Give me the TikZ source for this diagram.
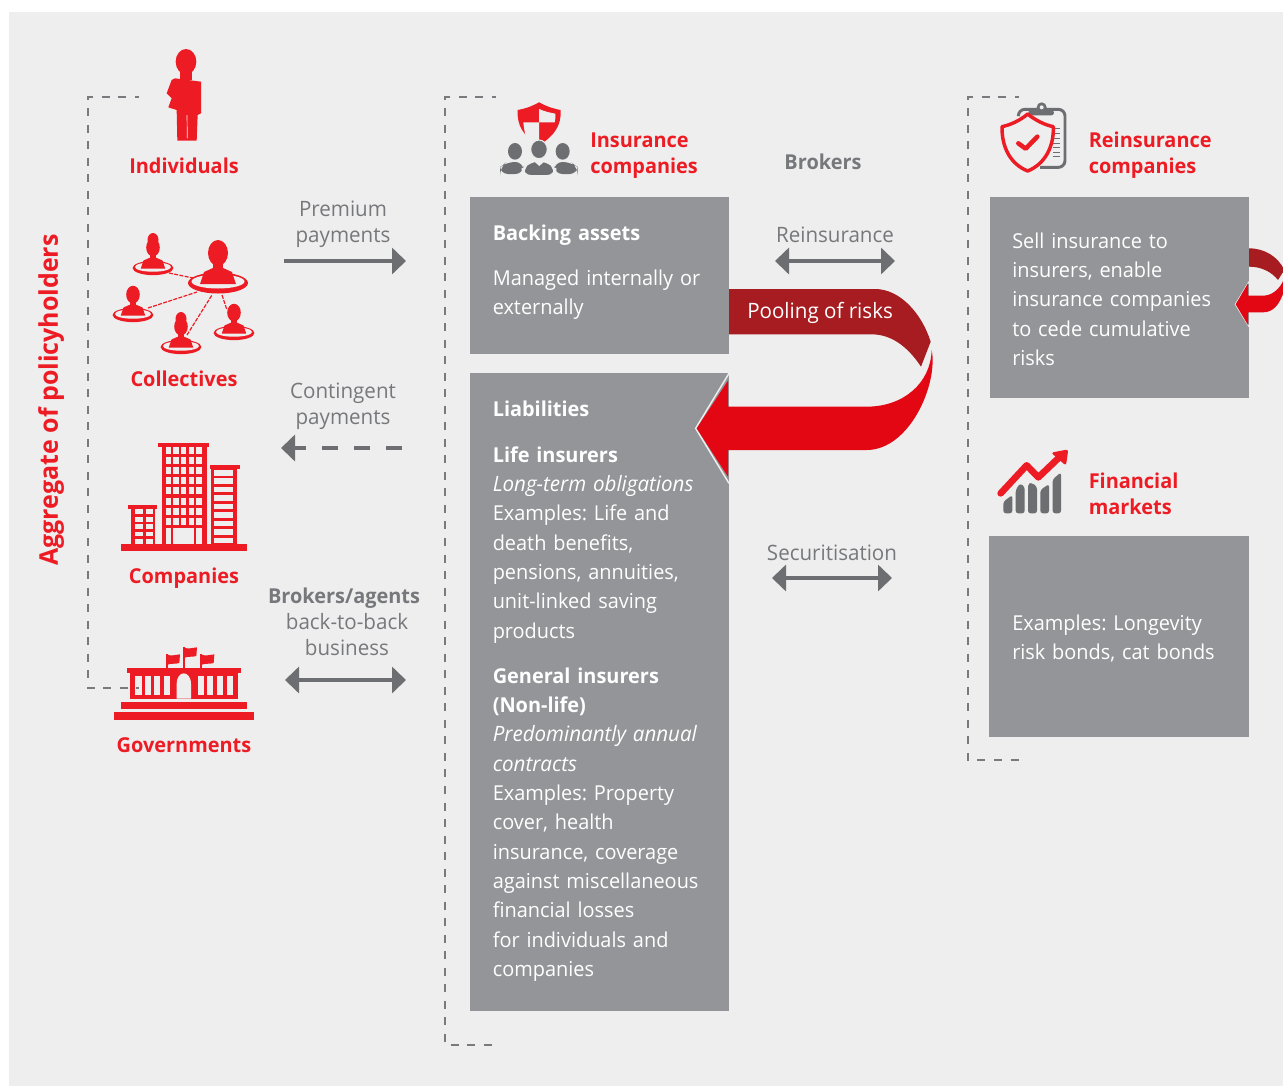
\documentclass[tikz,border=0pt]{standalone}
\usepackage{fontspec}
\setmainfont[FakeStretch=0.97]{Open Sans}
\usetikzlibrary{arrows.meta}
\definecolor{bgc}{HTML}{EEEEEE}
\definecolor{redc}{HTML}{ED1C24}
\definecolor{darkred}{HTML}{A61C20}
\definecolor{arrowred}{HTML}{E30613}
\definecolor{boxc}{HTML}{939598}
\definecolor{grayc}{HTML}{6D6E71}
\definecolor{txtgray}{HTML}{77787B}
\AtBeginDocument{\frenchspacing}
\newcommand{\itline}[1]{{\fontsize{15.9pt}{22pt}\selectfont\itshape #1}}
\tikzset{
  x=.75pt,y=-.75pt,
  panelbox/.style={fill=boxc,draw=none},
  boxtext/.style={anchor=base west,inner sep=0pt,text=white,text width=255*.75pt,align=left,font=\fontsize{15.4pt}{22pt}\selectfont},
  redtitle/.style={anchor=base west,inner sep=0pt,text=redc,text width=170*.75pt,align=left,font=\fontsize{15.4pt}{20pt}\selectfont\bfseries},
  redlabel/.style={anchor=base,inner sep=0pt,text=redc,font=\fontsize{15.4pt}{20pt}\selectfont\bfseries},
  graylabel/.style={anchor=base,inner sep=0pt,text=txtgray,text width=170*.75pt,align=center,font=\fontsize{15.9pt}{20pt}\selectfont},
  flowarrow/.style={draw=grayc,line width=3.2pt,{Triangle[length=10.5pt,width=19.5pt]}-{Triangle[length=10.5pt,width=19.5pt]}},
  bracket/.style={draw=grayc,line width=1.6pt,dash pattern=on 6pt off 6.4pt,dash phase=3pt,opacity=.9},
  iconzoom/.style={x=.25pt,y=-.25pt},
  hub/.pic={
    \fill[redc] (0,0) ellipse [x radius=30,y radius=10.5];
    \fill[bgc] (0,-1.5) ellipse [x radius=26.5,y radius=7];
    \fill[redc] (0,-30) ellipse [x radius=10,y radius=13];
    \fill[redc] (-5,-20) rectangle (5,-12);
    \fill[redc] (-18,1) -- (-14,-11) -- (-5,-15) -- (5,-15) -- (14,-11) -- (18,1) -- cycle;
  },
}
\begin{document}
\begin{tikzpicture}
\useasboundingbox (0,0) rectangle (1283,1086);
\fill[white] (0,0) rectangle (1283,1086);
\fill[bgc] (9,12) rectangle (1283,1086);

% ---- grey panels
\fill[panelbox] (470,197) rectangle (729,354);
\fill[panelbox] (470,373) rectangle (729,1011);
\fill[panelbox] (990,197) rectangle (1249,398);
\fill[panelbox] (989,536) rectangle (1249,737);

% ---- individuals icon
\begin{scope}[shift={(30,30)},iconzoom]
  \fill[redc] (468,95) ellipse [x radius=31,y radius=38];
  \fill[redc] (450,120) rectangle (485,150);
  \fill[redc] (435,145) -- (513,155) -- (513,250) -- (503,255) -- (500,332) -- (442,332)
     -- (440,240) -- (415,232) -- (425,205) -- (410,190) -- (425,150) -- cycle;
  \draw[bgc,line width=.5pt] (471,255) -- (472,325);
\end{scope}

% ---- collectives icon
\begin{scope}
  \draw[redc,line width=.9pt,dash pattern=on 3pt off 1pt] (169,273) -- (193,278);
  \draw[redc,line width=.9pt,dash pattern=on 3pt off 1pt] (148,308) -- (197,292);
  \draw[redc,line width=.9pt,dash pattern=on 3pt off 1pt] (187,335) -- (212,295);
  \draw[redc,line width=.9pt,dash pattern=on 3pt off 1pt] (222,295) -- (227,310);
  \pic[scale=1] at (218,283) {hub};
  \pic[scale=.68] at (153,268) {hub};
  \pic[scale=.68] at (133,315) {hub};
  \pic[scale=.68] at (181,347) {hub};
  \pic[scale=.68] at (234,333) {hub};
  \fill[redc] (153,240) ellipse [x radius=5.5,y radius=7];
  \fill[redc] (181,319) ellipse [x radius=5.5,y radius=7];
\end{scope}

% ---- companies icon
\begin{scope}[shift={(90,430)},iconzoom]
  \fill[redc] (93,342) rectangle (470,362);
  \fill[redc] (205,38) rectangle (358,50);
  \fill[redc] (215,50) rectangle (350,342);
  \foreach \yy/\yb in {50/73,80/103,111/133,142/163,172/193,203/224,233/254,263/285}
    \foreach \xx in {228,250,273,296,319}
      \fill[bgc] (\xx,\yy) rectangle (\xx+16,\yb);
  \fill[bgc] (228,293) rectangle (244,342);
  \fill[bgc] (250,293) rectangle (312,342);
  \fill[bgc] (319,293) rectangle (335,342);
  \fill[redc] (361,105) rectangle (450,118);
  \fill[redc] (362,118) rectangle (440,342);
  \foreach \yy in {120,145,170,196,221,247,272,298,323}
    \fill[bgc] (373,\yy) rectangle (428,\yy+17);
  \fill[redc] (113,225) rectangle (202,238);
  \fill[redc] (122,238) rectangle (195,342);
  \foreach \yy in {238,261,283,305,327}
    \foreach \xx/\xb in {135/158,168/190}
      \fill[bgc] (\xx,\yy) rectangle (\xb,\yy+14);
\end{scope}

% ---- governments icon
\begin{scope}[shift={(90,430)},iconzoom]
  \fill[redc] (72,846) rectangle (492,870);
  \fill[redc] (93,816) rectangle (471,837);
  \fill[redc] (120,725) rectangle (443,806);
  \fill[redc] (110,715) rectangle (453,730);
  \foreach \xx/\xb in {135/155,165/182,193/211,222/240,323/341,352/369,381/399,411/429}
    \fill[bgc] (\xx,738) rectangle (\xb,795);
  \fill[bgc] (260,806) -- (260,762) .. controls (260,740) and (272,730) .. (281,730)
     .. controls (291,730) and (303,740) .. (303,762) -- (303,806) -- cycle;
  \foreach \xx/\yy in {228/673,279/652,331/673} {
    \fill[redc] (\xx,\yy) rectangle (\xx+6,715);
    \fill[redc] (\xx+2,\yy) .. controls (\xx+15,\yy+6) and (\xx+25,\yy+2) .. (\xx+42,\yy)
       -- (\xx+40,\yy+26) .. controls (\xx+28,\yy+30) and (\xx+15,\yy+26) .. (\xx+2,\yy+32) -- cycle;
  }
\end{scope}

% ---- insurance companies icon
\begin{scope}[shift={(480,90)},iconzoom]
  \fill[redc] (177,37) .. controls (150,52) and (130,57) .. (113,60)
     .. controls (110,105) and (130,140) .. (177,165)
     .. controls (222,140) and (245,105) .. (242,60)
     .. controls (225,57) and (205,52) .. (177,37) -- cycle;
  \fill[bgc] (177,57) .. controls (195,65) and (210,68) .. (226,71)
     .. controls (227,80) and (226,88) .. (224,97) -- (177,97) -- cycle;
  \fill[bgc] (130,97) -- (177,97) -- (177,170) -- (145,170) .. controls (138,145) and (132,120) .. (130,97) -- cycle;
  \fill[grayc,rounded corners=6pt] (60,252) -- (60,232) -- (80,216) -- (130,216) -- (130,252) -- cycle;
  \fill[grayc,rounded corners=6pt] (293,252) -- (293,232) -- (273,216) -- (223,216) -- (223,252) -- cycle;
  \draw[bgc,line width=1.5pt,fill=grayc,rounded corners=6pt] (128,258) -- (128,236) -- (150,212) -- (204,212) -- (226,236) -- (226,258) -- cycle;
  \fill[bgc] (178,228) -- (160,212) -- (196,212) -- cycle;
  \fill[grayc] (105,184) ellipse [x radius=21,y radius=25];
  \fill[grayc] (248,184) ellipse [x radius=21,y radius=25];
  \draw[bgc,line width=.8pt,fill=grayc] (177,178) ellipse [x radius=25,y radius=28];
\end{scope}

% ---- reinsurance companies icon
\begin{scope}[shift={(960,90)},iconzoom]
  \draw[grayc,line width=2.2pt,rounded corners=5pt] (175,75) -- (175,58) -- (315,58) -- (315,232) -- (240,232);
  \fill[grayc] (245,52) circle [radius=15];
  \fill[bgc] (245,52) circle [radius=6];
  \fill[grayc,rounded corners=2pt] (205,60) rectangle (282,76);
  \foreach \yy in {115,130,145,160,172,187,200}
    \draw[grayc,line width=1.1pt] (278,\yy) -- (300,\yy);
  \draw[redc,line width=2.6pt,fill=bgc,line join=round] (203,72) .. controls (180,92) and (150,105) .. (126,110)
     .. controls (125,170) and (150,222) .. (203,243)
     .. controls (255,222) and (282,170) .. (280,110)
     .. controls (255,105) and (228,92) .. (203,72) -- cycle;
  \draw[redc,line width=3.4pt,line cap=round,line join=round] (175,160) -- (197,176) -- (232,140);
\end{scope}

% ---- financial markets icon
\begin{scope}[shift={(980,440)},iconzoom]
  \fill[grayc,rounded corners=2pt] (70,220) -- (70,185) -- (97,165) -- (97,220) -- cycle;
  \fill[grayc,rounded corners=2pt] (107,220) -- (107,150) -- (120,130) -- (134,140) -- (134,220) -- cycle;
  \fill[grayc,rounded corners=2pt] (144,220) -- (144,132) -- (155,128) -- (171,140) -- (171,220) -- cycle;
  \fill[grayc,rounded corners=2pt] (181,220) -- (181,150) -- (207,132) -- (207,220) -- cycle;
  \fill[grayc,rounded corners=2pt] (218,220) -- (218,118) -- (243,97) -- (243,220) -- cycle;
  \draw[redc,line width=5pt,line join=round,line cap=round] (62,160) -- (140,76) -- (175,112) -- (240,50);
  \fill[redc,rounded corners=2pt] (213,38) -- (265,28) -- (258,77) -- cycle;
\end{scope}

% ---- pooling of risks arrow
\begin{scope}[shift={(690,270)},iconzoom]
  \draw[bgc,line width=1.1pt] (117,310) -- (17,475) -- (117,640);
  \fill[darkred] (117,57) -- (555,57) .. controls (630,57) and (695,130) .. (722,215)
     -- (693,290) .. controls (650,225) and (600,193) .. (545,193) -- (117,193) -- cycle;
  \fill[arrowred] (20,475) -- (114,332) -- (114,410) -- (530,410)
     .. controls (640,410) and (722,340) .. (725,240)
     .. controls (745,340) and (660,540) .. (530,540) -- (114,540) -- (114,620) -- cycle;
\end{scope}

% ---- small arrow on reinsurance box
\begin{scope}[shift={(1223,235)},iconzoom]
  \draw[bgc,line width=.8pt] (78,140) -- (37,208) -- (78,275);
  \fill[darkred] (78,40) .. controls (125,40) and (165,65) .. (184,105)
     -- (165,135) .. controls (145,110) and (115,95) .. (78,95) -- cycle;
  \fill[arrowred] (38,208) -- (75,145) -- (75,182) -- (120,182)
     .. controls (145,182) and (170,165) .. (184,130)
     -- (184,165) .. controls (170,210) and (150,232) .. (120,232)
     -- (75,232) -- (75,270) -- cycle;
\end{scope}

% ---- dashed brackets
\coordinate (la) at (139,97); \coordinate (lb) at (88,97); \coordinate (lc) at (88,688); \coordinate (ld) at (139,688);
\coordinate (ma) at (496,97); \coordinate (mb) at (445,97); \coordinate (mc) at (445,1045); \coordinate (md) at (496,1045);
\coordinate (ra) at (1019,97); \coordinate (rb) at (968,97); \coordinate (rc) at (968,760); \coordinate (rd) at (1019,760);
\draw[bracket] (la) -- (lb) -- (lc) -- (ld);
\draw[bracket] (ma) -- (mb) -- (mc) -- (md);
\draw[bracket] (ra) -- (rb) -- (rc) -- (rd);

% ---- flow arrows
\coordinate (pa) at (284,261); \coordinate (pb) at (406,261);
\draw[draw=grayc,line width=3.2pt,-{Triangle[length=10.5pt,width=19.5pt]}] (pa) -- (pb);
\coordinate (ca) at (402,448); \coordinate (cb) at (281,448);
\draw[draw=grayc,line width=3.2pt,dash pattern=on 12pt off 12pt,-{Triangle[length=10.5pt,width=19.5pt]}] (ca) -- (cb);
\coordinate (ba) at (285,680); \coordinate (bb) at (406,680);
\draw[flowarrow] (ba) -- (bb);
\coordinate (ra1) at (775,261); \coordinate (ra2) at (895,261);
\draw[flowarrow] (ra1) -- (ra2);
\coordinate (sa) at (772,578); \coordinate (sb) at (892,578);
\draw[flowarrow] (sa) -- (sb);

% ---- left labels
\node[anchor=center,rotate=90,inner sep=0pt,text=redc,font=\fontsize{19.3pt}{22pt}\selectfont\bfseries] (agg) at (51,400) {Aggregate of policyholders};
\node[redlabel] (ind) at (184,173) {Individuals};
\node[redlabel] (col) at (184,386) {Collectives};
\node[redlabel] (com) at (184,583) {Companies};
\node[redlabel] (gov) at (184,752) {Governments};
\node[graylabel] (prem) at (343,216) {Premium\\payments};
\node[graylabel] (cont) at (343,398) {Contingent\\payments};
\node[graylabel] (brag) at (344,603) {\fontsize{15.4pt}{20pt}\selectfont\textbf{Brokers/agents}};
\node[graylabel] (b2b) at (347,629) {back-to-back\\business};

% ---- headings
\node[redtitle] (ins) at (590,147) {Insurance\\companies};
\node[redtitle] (rei) at (1088.5,147) {Reinsurance\\companies};
\node[redtitle] (fin) at (1088.5,488) {Financial\\markets};
\node[graylabel] (bro) at (823,169) {\fontsize{15.4pt}{20pt}\selectfont\textbf{Brokers}};
\node[graylabel] (rlab) at (835,242) {Reinsurance};
\node[graylabel] (slab) at (832,560) {Securitisation};
\node[anchor=base west,inner sep=0pt,text=white,font=\fontsize{15.9pt}{20pt}\selectfont] (pool) at (747,318) {Pooling of risks};

% ---- box texts
\node[boxtext] (ba1) at (492.5,240) {\textbf{Backing assets}};
\node[boxtext] (ba2) at (492.5,285) {Managed internally or\\externally};
\node[boxtext] (li0) at (492.5,416) {\textbf{Liabilities}};
\node[boxtext] (li1) at (492.5,462) {\textbf{Life insurers}\\\itline{Long-term obligations}\\Examples: Life and\\death benefits,\\pensions, annuities,\\unit-linked saving\\products};
\node[boxtext] (li2) at (492.5,683) {\textbf{General insurers}\\\textbf{(Non-life)}\\\itline{Predominantly annual}\\\itline{contracts}\\Examples: Property\\cover, health\\insurance, coverage\\against miscellaneous\\financial losses\\for individuals and\\companies};
\node[boxtext] (re1) at (1012,248) {Sell insurance to\\insurers, enable\\insurance companies\\to cede cumulative\\risks};
\node[boxtext] (fi1) at (1012,630) {Examples: Longevity\\risk bonds, cat bonds};
\end{tikzpicture}
\end{document}
